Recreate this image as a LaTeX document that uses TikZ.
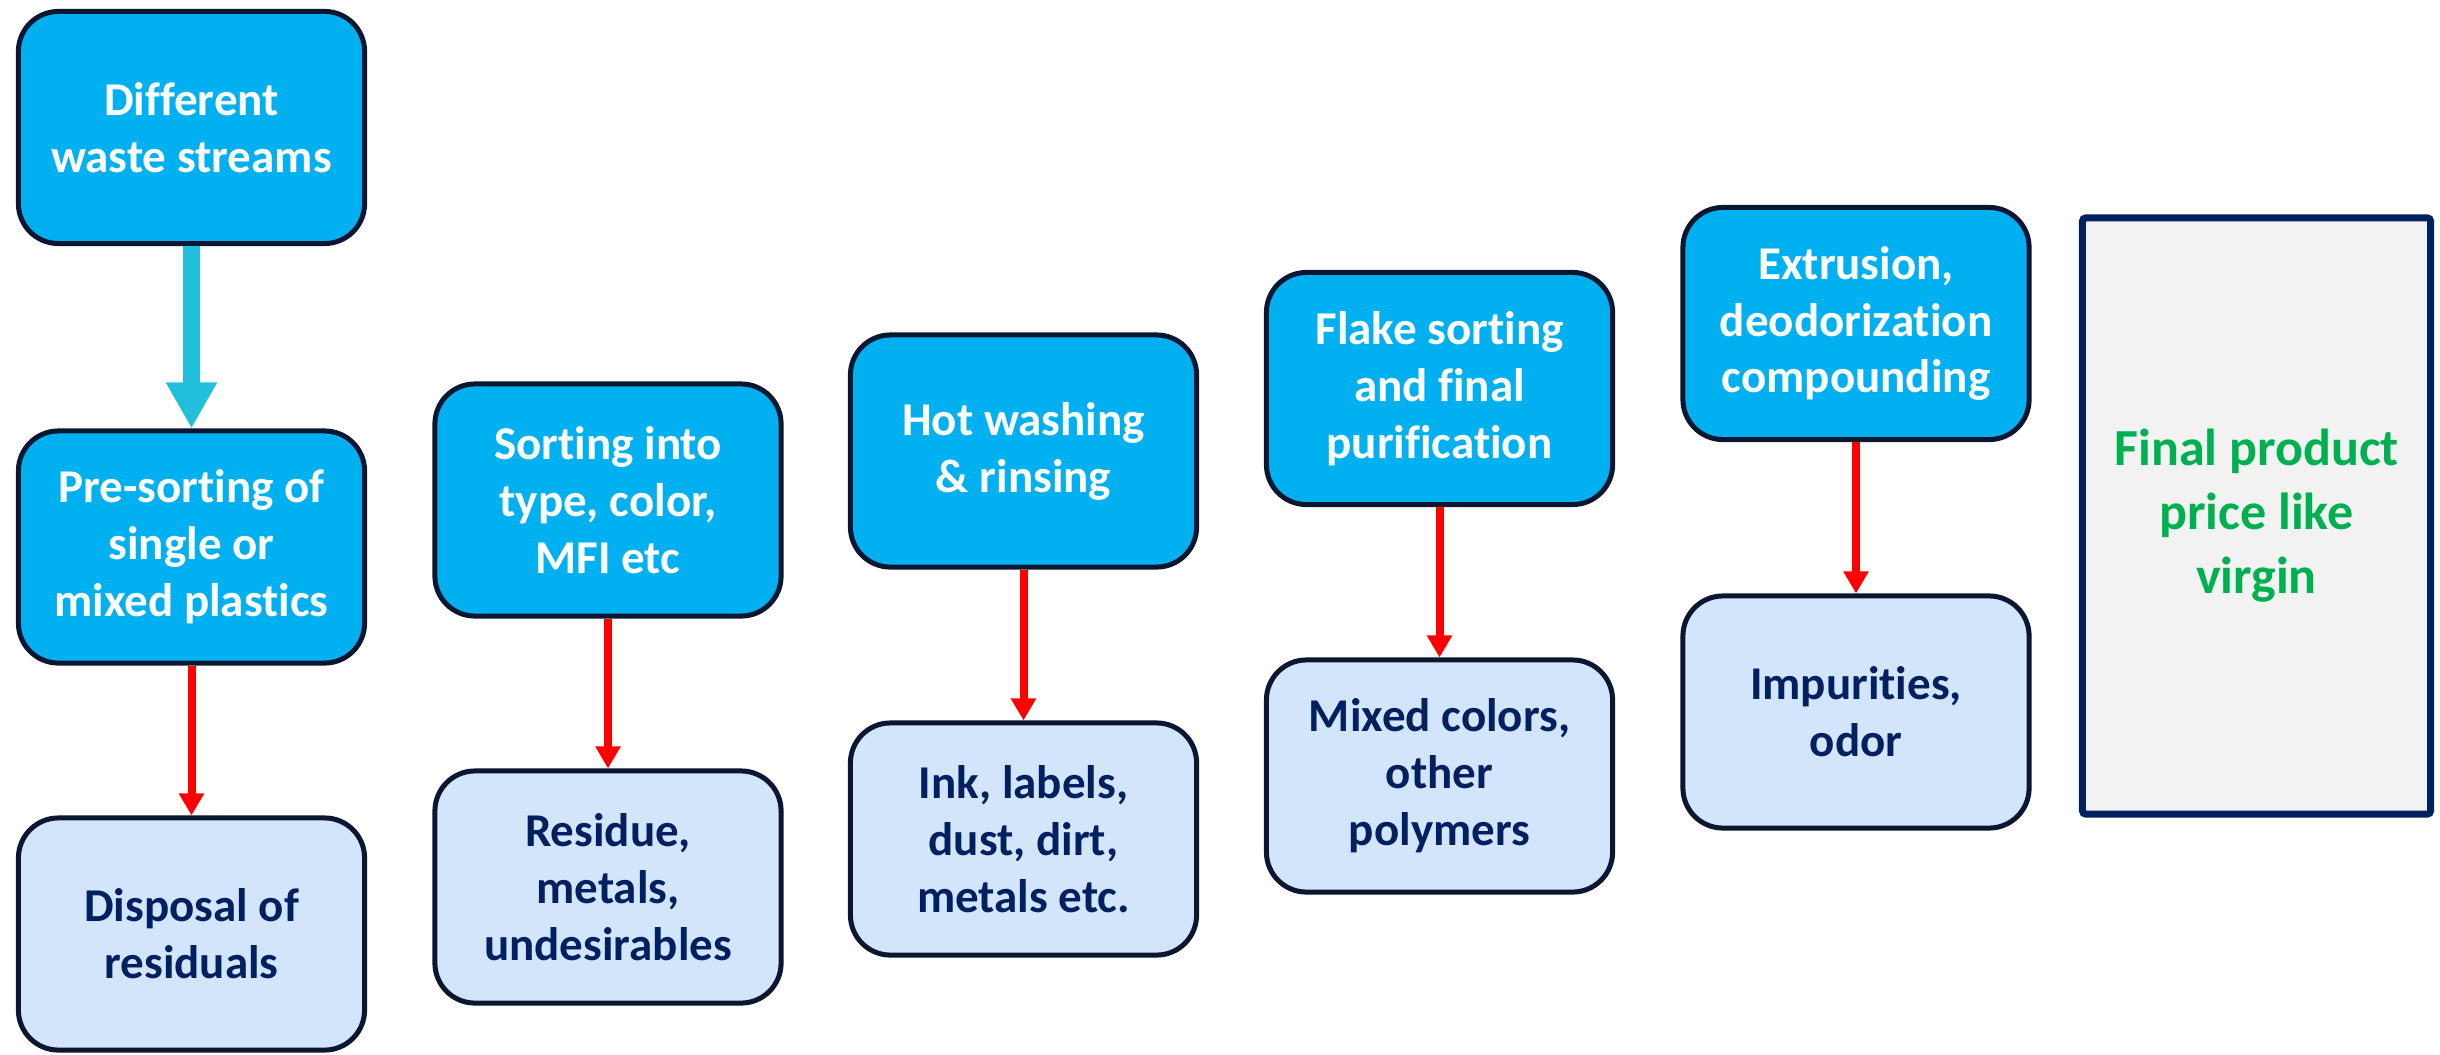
\documentclass[tikz,border=0pt]{standalone}
\usepackage{fontspec}
\setmainfont{Carlito}[Ligatures=NoCommon]
\usetikzlibrary{arrows.meta}
\definecolor{procblue}{HTML}{00B0F0}
\definecolor{lightbox}{HTML}{D3E5FB}
\definecolor{edgecol}{HTML}{0B1730}
\definecolor{navytext}{HTML}{002060}
\definecolor{cyanarrow}{HTML}{21BFD9}
\definecolor{finalfill}{HTML}{F2F2F2}
\definecolor{finalgreen}{HTML}{00B050}
\definecolor{finalborder}{HTML}{002060}
\begin{document}
\begin{tikzpicture}[x=0.01cm,y=-0.01cm,
 box/.style={draw=edgecol, line width=0.05cm, rounded corners=0.4cm, minimum width=3.46cm, minimum height=2.32cm, align=center, inner sep=0pt, font=\fontsize{13.37}{16.2}\selectfont\bfseries},
 procbox/.style={box, fill=procblue, text=white},
 outbox/.style={box, fill=lightbox, text=navytext},
 redarrow/.style={draw=red, line width=0.08cm, -{Triangle[length=0.22cm,width=0.24cm]}},
 cyanarr/.style={draw=cyanarrow, line width=0.16cm, -{Triangle[length=0.46cm,width=0.48cm]}},
 finalbox/.style={draw=finalborder, line width=0.07cm, fill=finalfill, rounded corners=1pt, minimum width=3.48cm, minimum height=5.96cm, align=center, inner sep=0pt, text=finalgreen, font=\fontsize{14.8}{18.2}\selectfont\bfseries}
]
\useasboundingbox (0,0) rectangle (2440,1054);
\node[procbox] (b1) at (191.5,127.5) {Different\\waste streams};
\node[procbox] (b2) at (191.5,547) {Pre-sorting of\\single or\\mixed plastics};
\node[outbox] (b3) at (191.5,934) {Disposal of\\residuals};
\node[procbox] (b4) at (608,500) {Sorting into\\type, color,\\MFI etc};
\node[outbox] (b5) at (608,887) {Residue,\\metals,\\undesirables};
\node[procbox] (b6) at (1023.5,451) {Hot washing\\\& rinsing};
\node[outbox] (b7) at (1023.5,839) {Ink, labels,\\dust, dirt,\\metals etc.};
\node[procbox] (b8) at (1439.5,388.5) {Flake sorting\\and final\\purification};
\node[outbox] (b9) at (1439.5,776) {Mixed colors,\\other\\polymers};
\node[procbox] (b10) at (1856,323.5) {Extrusion,\\deodorization\\compounding};
\node[outbox] (b11) at (1856,712) {Impurities,\\odor};
\node[finalbox] (fin) at (2256.5,516) {Final product\\price like\\virgin};
\draw[cyanarr] (b1.south) -- (b2.north);
\draw[redarrow] (b2.south) -- (b3.north);
\draw[redarrow] (b4.south) -- (b5.north);
\draw[redarrow] (b6.south) -- (b7.north);
\draw[redarrow] (b8.south) -- (b9.north);
\draw[redarrow] (b10.south) -- (b11.north);
\end{tikzpicture}
\end{document}
